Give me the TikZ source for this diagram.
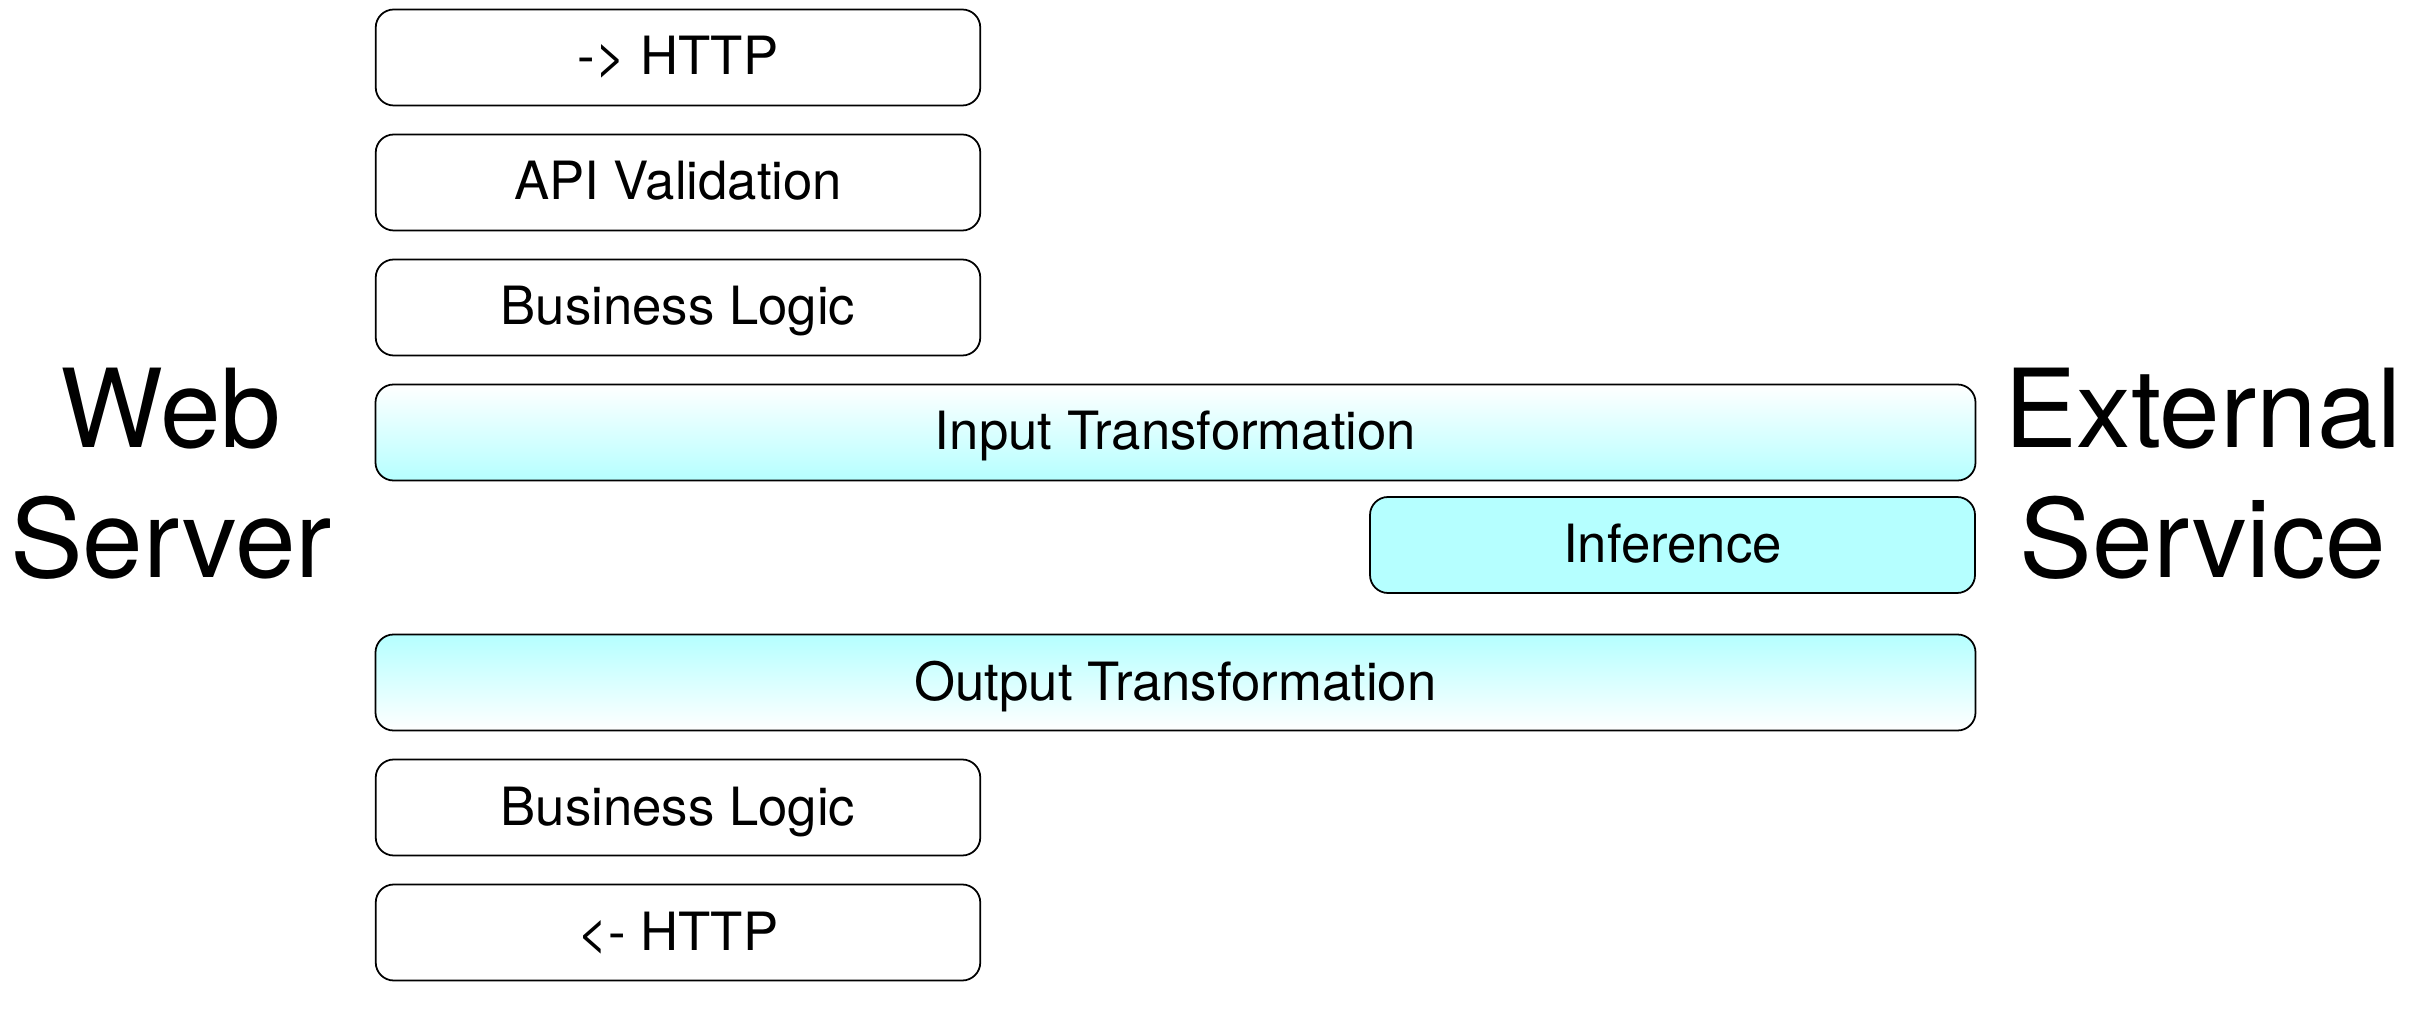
\documentclass[tikz,border=0pt]{standalone}
\usepackage{fontspec}
\setmainfont{TeX Gyre Heros}
\definecolor{svccyan}{HTML}{B5FFFF}

\begin{document}
\begin{tikzpicture}[
    layer/.style={draw, line width=0.5pt, rounded corners=0.18cm,
        minimum width=6.045cm, minimum height=0.96cm, inner sep=0pt,
        text height=0.38cm, text depth=0.03cm,
        font=\fontsize{15}{18}\selectfont},
    widelayer/.style={layer, minimum width=16cm},
    fadedown/.style={top color=white, bottom color=svccyan},
    fadeup/.style={top color=svccyan, bottom color=white},
    side/.style={align=center, font=\fontsize{31}{37}\selectfont}
]
\useasboundingbox (0, 0) rectangle (24.28, 10.13);
\begin{scope}
    % Web server layers
    \draw (6.78, 9.555) node[layer] (HttpIn) {-> HTTP};
    \draw (6.78, 8.305) node[layer] (Valid) {API Validation};
    \draw (6.78, 7.055) node[layer] (LogicIn) {Business Logic};

    % Shared layers
    \draw (11.755, 5.805) node[widelayer, fadedown] (TransIn) {Input Transformation};
    \draw (16.725, 4.68) node[layer, fill=svccyan, minimum width=6.05cm] (Infer) {Inference};
    \draw (11.755, 3.305) node[widelayer, fadeup] (TransOut) {Output Transformation};

    \draw (6.78, 2.055) node[layer] (LogicOut) {Business Logic};
    \draw (6.78, 0.805) node[layer] (HttpOut) {<- HTTP};

    % Side labels
    \draw (1.71, 5.39) node[side] (Web) {Web\\Server};
    \draw (22.03, 5.39) node[side] (Ext) {External\\Service};
\end{scope}
\end{tikzpicture}
\end{document}
